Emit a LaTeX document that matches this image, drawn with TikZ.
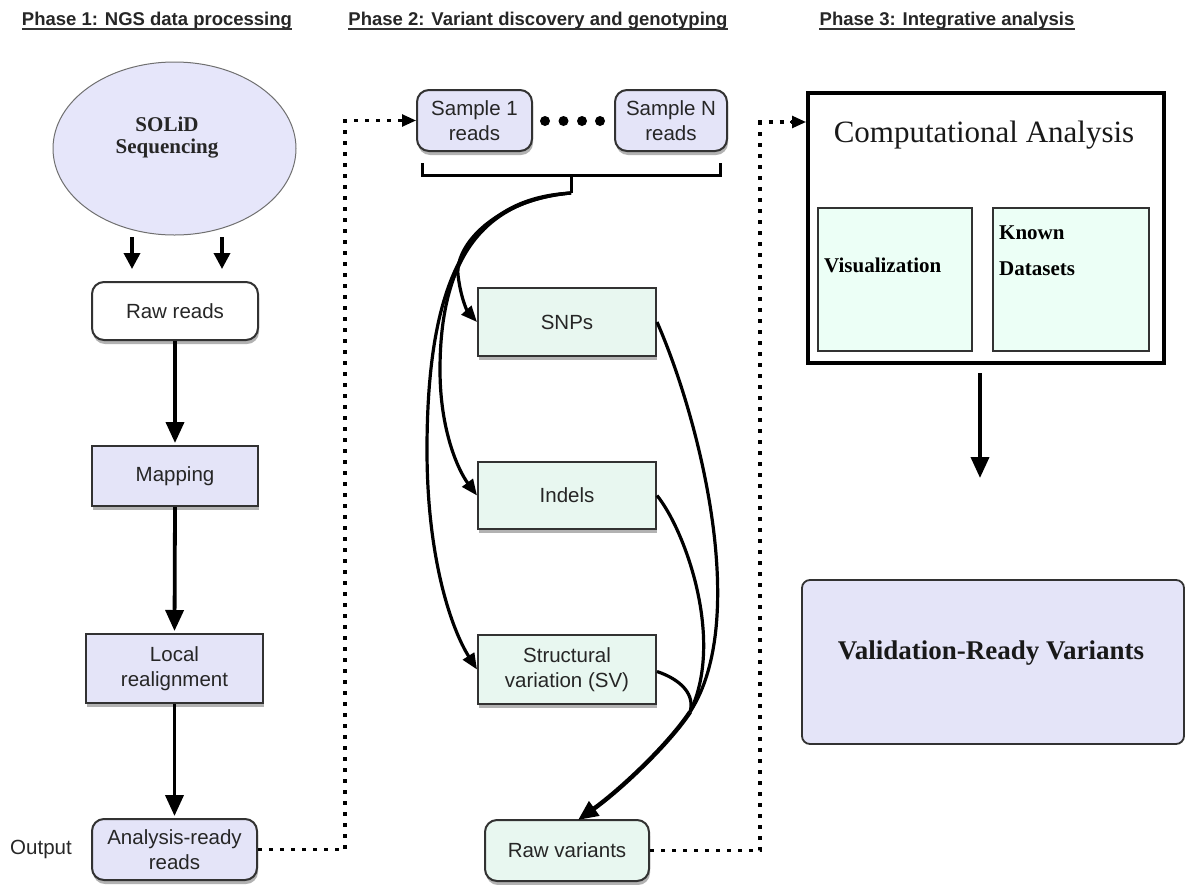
\documentclass[tikz,border=0pt]{standalone}
\usepackage{fontspec}
\setmainfont{Liberation Serif}
\setsansfont{Liberation Sans}
\usetikzlibrary{arrows.meta,shadows,shapes.geometric,calc}
\definecolor{lav}{RGB}{228,228,248}
\definecolor{ellc}{RGB}{230,230,250}
\definecolor{mint}{RGB}{232,247,240}
\definecolor{mintb}{RGB}{236,255,246}
\definecolor{bd}{RGB}{50,50,50}
\begin{document}
\begin{tikzpicture}[x=1pt,y=1pt,
  lbl/.style={font=\fontsize{20.5}{25}\selectfont\sffamily, align=center, text=black!85},
  boxshadow/.style={drop shadow={shadow xshift=1pt,shadow yshift=-4pt,opacity=0.3,fill=black}},
  sqbox/.style={lbl, draw=bd, line width=2pt, boxshadow, inner sep=0pt},
  rdbox/.style={sqbox, rounded corners=12pt},
  flow/.style={line width=3.8pt, -{Triangle[length=21pt,width=18pt]}},
  sflow/.style={line width=3.5pt, -{Triangle[length=16pt,width=16pt]}},
  dlink/.style={line width=3.6pt, dash pattern=on 4pt off 7pt},
  curve/.style={line width=3.2pt},
  chead/.style={-{Triangle[length=16pt,width=13pt]}},
  head/.style={font=\fontsize{18.5}{20}\selectfont\sffamily\bfseries, text=black!85, inner sep=0pt, anchor=base},
  serifb/.style={font=\fontsize{21}{36}\selectfont\rmfamily\bfseries, align=left, inner sep=0pt}
]
\useasboundingbox (0,0) rectangle (1186,-884);
\fill[white] (0,0) rectangle (1186,-884);

% headers
\node[head] (h1) at (157,-25) {Phase 1: NGS data processing};
\node[head] (h2) at (538,-25) {Phase 2: Variant discovery and genotyping};
\node[head] (h3) at (947,-25) {Phase 3: Integrative analysis};
\foreach \h in {h1,h2,h3}{
  \draw[line width=2pt, black!80] ($(\h.base west)+(0,-4)$) -- ($(\h.base east)+(0,-4)$);
}

% Phase 1
\node[ellipse, draw=bd!70, line width=1pt, fill=ellc, minimum width=243, minimum height=173] (sol) at (174.5,-148.5) {};
\node[font=\fontsize{21}{22}\selectfont\rmfamily\bfseries, align=center, text=black!85] (solt) at (167,-138) {SOLiD\\Sequencing};
\coordinate (sa1) at (132,-237); \coordinate (sa2) at (222,-237);
\coordinate (ta1) at (132,-269); \coordinate (ta2) at (222,-269);
\draw[sflow] (sa1) -- (ta1);
\draw[sflow] (sa2) -- (ta2);

\node[rdbox, fill=white, minimum width=166, minimum height=58] (rr) at (175,-311) {Raw reads};
\node[sqbox, fill=lav, minimum width=166, minimum height=60] (map) at (175,-476) {Mapping};
\node[sqbox, fill=lav, minimum width=177, minimum height=69] (loc) at (174.5,-668.5) {Local\\realignment};
\node[rdbox, fill=lav, minimum width=165, minimum height=61] (ar) at (174.5,-849.5) {Analysis-ready\\reads};
\node[lbl] (out) at (41,-849) {Output};

\draw[flow, shorten >=2pt] (rr.south) -- (map.north);
\draw[flow, shorten >=2pt] (map.south) -- (loc.north);
\draw[flow, shorten >=2pt] (loc.south) -- (ar.north);

% Phase 2
\node[rdbox, fill=lav, minimum width=115, minimum height=61] (s1) at (474.5,-120.5) {Sample 1\\reads};
\node[rdbox, fill=lav, minimum width=112, minimum height=61] (sn) at (671,-120.5) {Sample N\\reads};
\foreach \x in {545,563.5,582,600}{ \fill (\x,-121) circle (5); }

\draw[line width=3pt] (422,-163) -- (422,-175) -- (720,-175) -- (720,-163);
\coordinate (br) at (571,-193);
\draw[line width=3pt] (571,-175) -- (br);

\node[sqbox, fill=mint, minimum width=178, minimum height=68] (snp) at (567,-322) {SNPs};
\node[sqbox, fill=mint, minimum width=178, minimum height=67] (ind) at (567,-495.5) {Indels};
\node[sqbox, fill=mint, minimum width=178, minimum height=69] (sv) at (567,-669.5) {Structural\\variation (SV)};
\node[rdbox, fill=mint, minimum width=164, minimum height=61] (rv) at (567,-850.5) {Raw variants};

\draw[curve, chead] (br) .. controls (495,-200) and (455,-245) .. (458,-275) .. controls (461,-300) and (468,-312) .. (snp.west);
\draw[curve, chead] (br) .. controls (490,-200) and (440,-250) .. (440,-370) .. controls (440,-430) and (458,-470) .. (ind.west);
\draw[curve, chead] (br) .. controls (480,-198) and (427,-260) .. (427,-450) .. controls (427,-560) and (452,-630) .. (sv.west);

\coordinate (mg) at (690,-712);
\coordinate (rvin) at (578,-820);
\draw[curve] (snp.east) .. controls (700,-420) and (750,-620) .. (mg);
\draw[curve] (ind.east) .. controls (685,-530) and (725,-640) .. (mg);
\draw[curve] ($(sv.east)+(0,-2)$) .. controls (682,-680) and (695,-695) .. (mg);
\draw[line width=4.4pt, -{Triangle[length=20pt,width=17pt]}] (mg) .. controls (668,-745) and (620,-790) .. (rvin);

% dotted links
\coordinate (d1a) at (345,-849.5); \coordinate (d1b) at (345,-120.5);
\draw[dlink] (ar.east) -- (d1a) -- (d1b) -- ($(s1.west)+(-12,0)$);
\draw[-{Triangle[length=14pt,width=12pt]}, line width=2.5pt] ($(s1.west)+(-14,0)$) -- (s1.west);

\coordinate (d2a) at (760,-850.5); \coordinate (d2b) at (760,-122);
\coordinate (caw) at (806,-122);

% Phase 3
\node[draw=black, line width=4.5pt, fill=white, minimum width=356, minimum height=270, inner sep=0pt] (ca) at (986,-228) {};
\node[font=\fontsize{31}{34}\selectfont\rmfamily, text=black!90] (cat) at (984,-135) {Computational Analysis};
\node[draw=bd, line width=1.4pt, fill=mintb, minimum width=154, minimum height=143, inner sep=0pt] (vis) at (895,-279.5) {};
\node[serifb, anchor=west] (vist) at (824,-265) {Visualization};
\node[draw=bd, line width=1.4pt, fill=mintb, minimum width=156, minimum height=143, inner sep=0pt] (kd) at (1071,-279.5) {};
\node[serifb, anchor=north west] (kdt) at (999,-226) {Known\\Datasets};

\draw[dlink] (rv.east) -- (d2a) -- (d2b) -- ($(caw)+(-14,0)$);
\draw[-{Triangle[length=14pt,width=12pt]}, line width=2.5pt] ($(caw)+(-16,0)$) -- (caw);

\coordinate (cao) at (980,-373); \coordinate (vri) at (980,-478);
\draw[flow] (cao) -- (vri);

\node[draw=bd, line width=1.8pt, fill=lav, rounded corners=8pt, minimum width=382, minimum height=164, inner sep=0pt] (vr) at (993,-662) {};
\node[font=\fontsize{27}{30}\selectfont\rmfamily\bfseries, text=black!90] (vrt) at (991,-653) {Validation-Ready Variants};
\end{tikzpicture}
\end{document}
